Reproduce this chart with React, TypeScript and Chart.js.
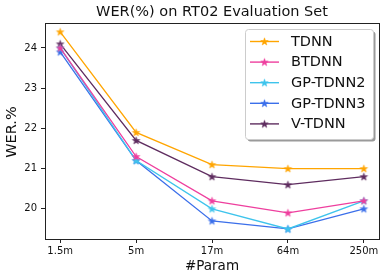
import React, { useEffect, useRef } from "react";
import { Chart, registerables } from "chart.js";

Chart.register(...registerables);

const categories = ["1.5m", "5m", "17m", "64m", "250m"];
const seriesNames = ["TDNN", "BTDNN", "GP-TDNN2", "GP-TDNN3", "V-TDNN"];
const tdnn = [24.4, 21.9, 21.1, 21.0, 21.0];
const btdnn = [24.0, 21.3, 20.2, 19.9, 20.2];
const gpTdnn2 = [24.0, 21.2, 20.0, 19.5, 20.2];
const gpTdnn3 = [23.9, 21.2, 19.7, 19.5, 20.0];
const vTdnn = [24.1, 21.7, 20.8, 20.6, 20.8];
const yTicks = [20, 21, 22, 23, 24];
const colors = ["#FFA500", "#EE3F9E", "#3EC4EC", "#3B6FEA", "#5E2C5F"];
const titleText = "WER(%) on RT02 Evaluation Set";
const xTitle = "#Param";
const yTitle = "WER.%";

const FONT = "'DejaVu Sans', sans-serif";

function makeStar(color: string): HTMLCanvasElement {
  const c = document.createElement("canvas");
  const s = 11;
  c.width = s;
  c.height = s;
  const ctx = c.getContext("2d")!;
  const cx = s / 2, cy = s / 2 + 0.3;
  const ro = 4.0, ri = 1.6;
  ctx.beginPath();
  for (let i = 0; i < 10; i++) {
    const r = i % 2 === 0 ? ro : ri;
    const a = -Math.PI / 2 + (i * Math.PI) / 5;
    const x = cx + r * Math.cos(a);
    const y = cy + r * Math.sin(a);
    if (i === 0) ctx.moveTo(x, y);
    else ctx.lineTo(x, y);
  }
  ctx.closePath();
  ctx.fillStyle = color;
  ctx.fill();
  ctx.strokeStyle = color;
  ctx.lineWidth = 0.5;
  ctx.stroke();
  return c;
}

export default function App() {
  const ref = useRef<HTMLCanvasElement | null>(null);

  useEffect(() => {
    document.body.style.margin = "0";
    const values = [tdnn, btdnn, gpTdnn2, gpTdnn3, vTdnn];
    const stars = colors.map((c) => makeStar(c));

    const framePlugin = {
      id: "frame",
      afterDraw(chart: any) {
        const { ctx, chartArea: a } = chart;
        ctx.save();
        ctx.strokeStyle = "#222";
        ctx.lineWidth = 1;
        ctx.strokeRect(Math.round(a.left) + 0.5, Math.round(a.top) + 0.5, Math.round(a.right - a.left), Math.round(a.bottom - a.top));
        // title
        ctx.fillStyle = "#111";
        ctx.font = `14.5px ${FONT}`;
        ctx.textAlign = "center";
        ctx.textBaseline = "middle";
        ctx.fillText(titleText, (a.left + a.right) / 2, 12);
        // x title
        ctx.font = `13.5px ${FONT}`;
        ctx.fillText(xTitle, (a.left + a.right) / 2, 266);
        // y title
        ctx.save();
        ctx.font = `14.5px ${FONT}`;
        ctx.translate(12, (a.top + a.bottom) / 2 + 1);
        ctx.rotate(-Math.PI / 2);
        ctx.fillText(yTitle, 0, 0);
        ctx.restore();

        // legend
        const lx = 245, ly = 29, lw = 128, lh = 110;
        const rr = 3;
        const rrect = (x: number, y: number, w: number, h: number) => {
          ctx.beginPath();
          ctx.moveTo(x + rr, y);
          ctx.lineTo(x + w - rr, y);
          ctx.quadraticCurveTo(x + w, y, x + w, y + rr);
          ctx.lineTo(x + w, y + h - rr);
          ctx.quadraticCurveTo(x + w, y + h, x + w - rr, y + h);
          ctx.lineTo(x + rr, y + h);
          ctx.quadraticCurveTo(x, y + h, x, y + h - rr);
          ctx.lineTo(x, y + rr);
          ctx.quadraticCurveTo(x, y, x + rr, y);
          ctx.closePath();
        };
        rrect(lx + 2.5, ly + 2.5, lw, lh);
        ctx.fillStyle = "#9a9a9a";
        ctx.fill();
        rrect(lx + 0.5, ly + 0.5, lw, lh);
        ctx.fillStyle = "#ffffff";
        ctx.fill();
        ctx.strokeStyle = "#cccccc";
        ctx.lineWidth = 1;
        ctx.stroke();
        ctx.font = `14.5px ${FONT}`;
        ctx.textAlign = "left";
        ctx.textBaseline = "middle";
        for (let i = 0; i < seriesNames.length; i++) {
          const y = 41.5 + i * 20.6;
          ctx.strokeStyle = colors[i];
          ctx.lineWidth = 1.4;
          ctx.beginPath();
          ctx.moveTo(250, y);
          ctx.lineTo(279, y);
          ctx.stroke();
          ctx.drawImage(stars[i], 264.5 - 5.5, y - 5.5);
          ctx.fillStyle = "#111";
          ctx.fillText(seriesNames[i], 291, y + 0.5);
        }
        ctx.restore();
      },
    };

    const chart = new Chart(ref.current!, {
      type: "line",
      data: {
        datasets: seriesNames.map((name, i) => ({
          label: name,
          data: values[i].map((v, j) => ({ x: j, y: v })),
          borderColor: colors[i],
          backgroundColor: colors[i],
          borderWidth: 1.3,
          pointStyle: stars[i] as any,
          pointRadius: 4,
          tension: 0,
        })),
      },
      options: {
        animation: false,
        responsive: false,
        layout: { padding: { left: 0, right: 7, top: 23, bottom: 0 } },
        plugins: {
          legend: { display: false },
          title: { display: false },
          tooltip: { enabled: false },
        },
        scales: {
          x: {
            type: "linear",
            min: -0.2,
            max: 4.2,
            afterBuildTicks: (s: any) => {
              s.ticks = categories.map((_, i) => ({ value: i }));
            },
            afterFit: (s: any) => {
              s.height = 36;
            },
            ticks: {
              callback: (v: any) => categories[v] ?? "",
              font: { family: FONT, size: 10 },
              color: "#111",
              padding: 2,
              maxRotation: 0,
              autoSkip: false,
            },
            grid: { drawOnChartArea: false, drawTicks: true, tickLength: 4, color: "#222" },
            border: { display: false },
          },
          y: {
            type: "linear",
            min: 19.25,
            max: 24.62,
            afterBuildTicks: (s: any) => {
              s.ticks = yTicks.map((v) => ({ value: v }));
            },
            afterFit: (s: any) => {
              s.width = 45;
            },
            ticks: {
              font: { family: FONT, size: 10 },
              color: "#111",
              padding: 4,
            },
            grid: { drawOnChartArea: false, drawTicks: true, tickLength: 4, color: "#222" },
            border: { display: false },
          },
        },
      },
      plugins: [framePlugin],
    });
    return () => chart.destroy();
  }, []);

  return (
    <div style={{ position: "absolute", left: 0, top: 0, width: 386, height: 275 }}>
      <canvas ref={ref} width={386} height={275} style={{ width: 386, height: 275 }} />
    </div>
  );
}
